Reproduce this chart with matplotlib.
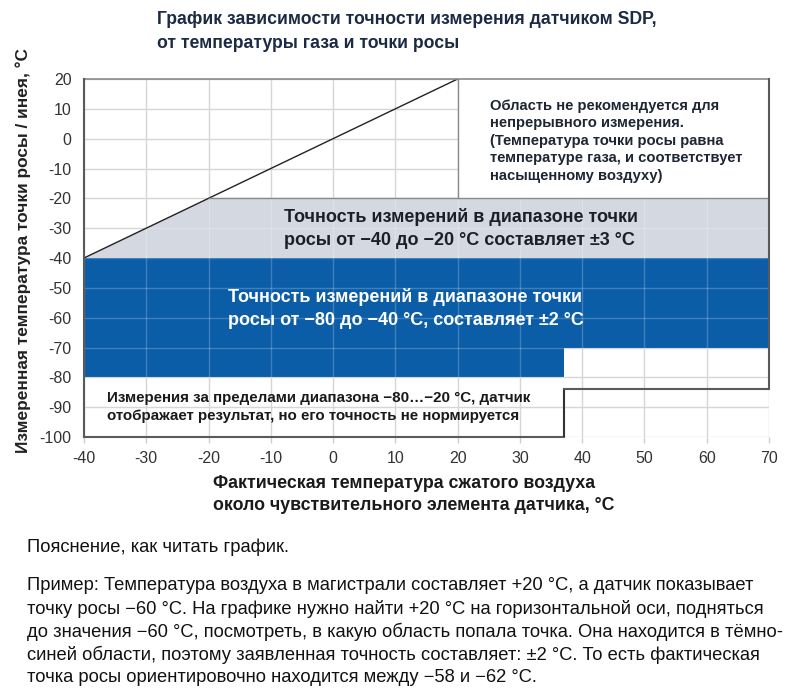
import matplotlib
matplotlib.use('Agg')
import matplotlib.pyplot as plt
from matplotlib.patches import Polygon, Rectangle

plt.rcParams['font.family'] = ['Liberation Sans', 'DejaVu Sans']
plt.rcParams['axes.unicode_minus'] = False

# ---------------- data ----------------
x_ticks = [-40, -30, -20, -10, 0, 10, 20, 30, 40, 50, 60, 70]
y_ticks = [-100, -90, -80, -70, -60, -50, -40, -30, -20, -10, 0, 10, 20]
x_limits = [-40, 70]
y_limits = [-100, 20]

saturation_x = [-40, 20]          # dew point = gas temperature
saturation_y = [-40, 20]
range3 = [-40, -20]               # accuracy ±3 °C
range2 = [-80, -40]               # accuracy ±2 °C
gas_limit = 37                    # gas temperature limit for low dew points
hot_dp_upper = -70
hot_dp_lower = -84

title_lines = ["График зависимости точности измерения датчиком SDP,",
               "от температуры газа и точки росы"]
ylabel = "Измеренная температура точки росы / инея, °С"
xlabel_lines = ["Фактическая температура сжатого воздуха",
                "около чувствительного элемента датчика, °С"]
note_top = ["Область не рекомендуется для",
            "непрерывного измерения.",
            "(Температура точки росы равна",
            "температуре газа, и соответствует",
            "насыщенному воздуху)"]
note_gray = ["Точность измерений в диапазоне точки",
             "росы от −40 до −20 °С составляет ±3 °С"]
note_blue = ["Точность измерений в диапазоне точки",
             "росы от −80 до −40 °С, составляет ±2 °С"]
note_bottom = ["Измерения за пределами диапазона −80…−20 °С, датчик",
               "отображает результат, но его точность не нормируется"]
explain_head = "Пояснение, как читать график."
explain = ["Пример: Температура воздуха в магистрали составляет +20 °С, а датчик показывает",
           "точку росы −60 °С. На графике нужно найти +20 °С на горизонтальной оси, подняться",
           "до значения −60 °С, посмотреть, в какую область попала точка. Она находится в тёмно-",
           "синей области, поэтому заявленная точность составляет: ±2 °С. То есть фактическая",
           "точка росы ориентировочно находится между −58 и −62 °С."]

# ---------------- figure ----------------
W, H = 794, 700
fig = plt.figure(figsize=(W / 100, H / 100), dpi=100)
fig.patch.set_facecolor('white')

L, R, T, B = 84, 769, 79, 437
ax = fig.add_axes([L / W, 1 - B / H, (R - L) / W, (B - T) / H])
ax.set_xlim(*x_limits)
ax.set_ylim(*y_limits)
ax.set_xticks(x_ticks)
ax.set_yticks(y_ticks)
ax.set_axisbelow(True)
ax.grid(True, color='#d6d6d6', lw=1.0)
for s in ax.spines.values():
    s.set_visible(False)
ax.tick_params(axis='x', length=4, color='#cfcfcf', width=1, pad=6,
               labelsize=11.5, labelcolor='#333333')
ax.tick_params(axis='y', length=0, pad=9, labelsize=11.5, labelcolor='#333333')

BLUE = '#0b5da7'
GRAY = '#d4d8e0'
EDGE = '#5a5a5a'

# gray band (±3)
gray_poly = Polygon([(saturation_x[0], range3[0]), (range3[1], range3[1]),
                     (x_limits[1], range3[1]), (x_limits[1], range3[0])],
                    closed=True, facecolor=GRAY, edgecolor='none', zorder=2)
ax.add_patch(gray_poly)

# blue band (±2)
blue_poly = Polygon([(x_limits[0], range2[1]), (x_limits[1], range2[1]),
                     (x_limits[1], hot_dp_upper), (gas_limit, hot_dp_upper),
                     (gas_limit, range2[0]), (x_limits[0], range2[0])],
                    closed=True, facecolor=BLUE, edgecolor='none', zorder=2)
ax.add_patch(blue_poly)

# faint grid on top of coloured bands
for poly in (gray_poly, blue_poly):
    for xv in x_ticks:
        ln = ax.axvline(xv, color='white', lw=1.0, alpha=0.22, zorder=2.5)
        ln.set_clip_path(poly)
    for yv in y_ticks:
        ln = ax.axhline(yv, color='white', lw=1.0, alpha=0.22, zorder=2.5)
        ln.set_clip_path(poly)

# white "not recommended" box
ax.add_patch(Rectangle((saturation_x[1], range3[1]), x_limits[1] - saturation_x[1],
                       y_limits[1] - range3[1], facecolor='white',
                       edgecolor='none', zorder=3))

# borders
ax.plot(saturation_x, saturation_y, color='#222222', lw=1.0, zorder=4)
ax.plot([saturation_x[1], saturation_x[1]], [range3[1], y_limits[1]], color='#8a8a8a', lw=1.0, zorder=4)
ax.plot([range3[1], x_limits[1]], [range3[1], range3[1]], color='#8a8a8a', lw=1.0, zorder=4)
ax.plot([x_limits[0], x_limits[1]], [y_limits[1], y_limits[1]], color='#8a8a8a', lw=1.2, zorder=4, clip_on=False)
ax.plot([x_limits[0], x_limits[0]], [y_limits[0], y_limits[1]], color=EDGE, lw=1.5, zorder=4, clip_on=False)
ax.plot([x_limits[1], x_limits[1]], [hot_dp_lower, y_limits[1]], color=EDGE, lw=1.5, zorder=4, clip_on=False)
ax.plot([x_limits[0], gas_limit], [y_limits[0], y_limits[0]], color=EDGE, lw=1.5, zorder=4, clip_on=False)
ax.plot([gas_limit, gas_limit], [y_limits[0], hot_dp_lower], color='#333333', lw=1.5, zorder=4)
ax.plot([gas_limit, x_limits[1]], [hot_dp_lower, hot_dp_lower], color=EDGE, lw=1.5, zorder=4)

# annotations inside the chart
def px2data(xp, yp):
    return (x_limits[0] + (xp - L) / (R - L) * (x_limits[1] - x_limits[0]),
            y_limits[1] - (yp - T) / (B - T) * (y_limits[1] - y_limits[0]))

def lines_at(lines, xp, y0, dy, **kw):
    for i, t in enumerate(lines):
        xd, yd = px2data(xp, y0 + i * dy)
        ax.text(xd, yd, t, ha='left', va='center', zorder=6, **kw)

lines_at(note_top, 490, 106, 17.4, fontsize=10.6, fontweight='bold', color='#1e2633')
lines_at(note_gray, 284, 217, 23, fontsize=13, fontweight='bold', color='#1a1f2a')
lines_at(note_blue, 228, 297, 23, fontsize=13, fontweight='bold', color='white')
lines_at(note_bottom, 107, 398, 17.7, fontsize=10.9, fontweight='bold', color='#1a1a1a')

# title, axis labels
for i, t in enumerate(title_lines):
    fig.text(157 / W, 1 - (20 + i * 23) / H, t, ha='left', va='center',
             fontsize=12.7, fontweight='bold', color='#1c2a44')
fig.text(23 / W, 1 - 250 / H, ylabel, rotation=90, ha='center', va='center',
         fontsize=12.4, fontweight='bold', color='#222222')
for i, t in enumerate(xlabel_lines):
    fig.text(213 / W, 1 - (483 + i * 23) / H, t, ha='left', va='center',
             fontsize=12.8, fontweight='bold', color='#1a1a1a')

# explanation paragraph
fig.text(27 / W, 1 - 547 / H, explain_head, ha='left', va='center',
         fontsize=13.2, color='#111111')
for i, t in enumerate(explain):
    fig.text(27 / W, 1 - (586 + i * 23) / H, t,
             ha='left', va='center', fontsize=13.2, color='#111111')

fig.savefig('out.png', dpi=100, facecolor='white')
